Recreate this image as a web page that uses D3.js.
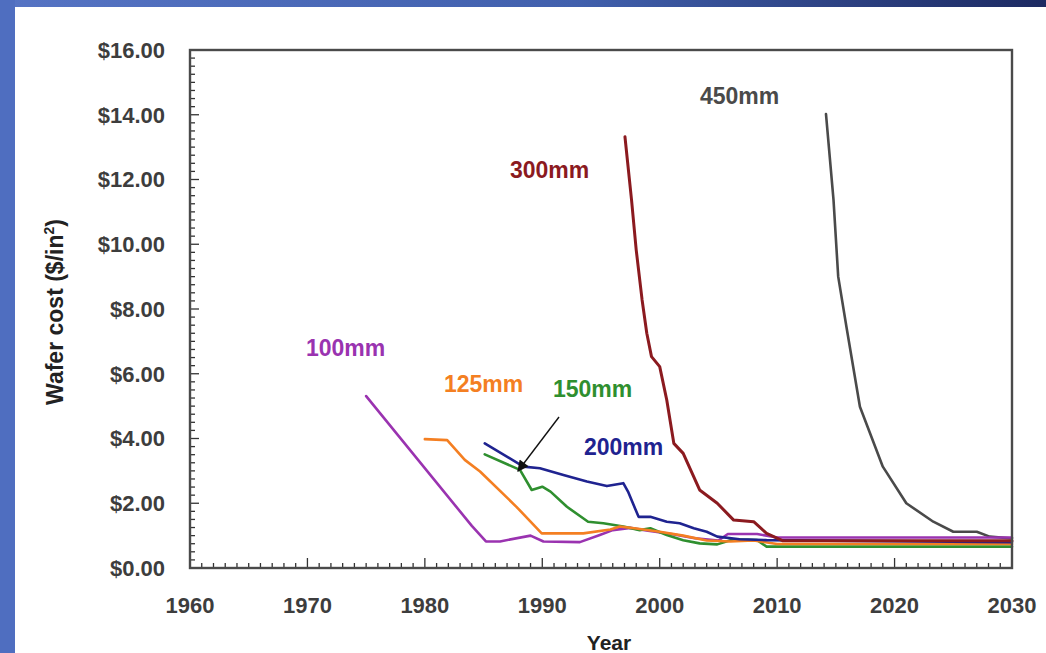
<!DOCTYPE html>
<html>
<head>
<meta charset="utf-8">
<script src="https://cdn.jsdelivr.net/npm/d3@7"></script>
<style>
html,body{margin:0;padding:0;background:#fff;}
svg{display:block;}
text{font-family:"Liberation Sans",Arial,sans-serif;}
</style>
</head>
<body>
<svg id="chart" width="1046" height="653"></svg>
<script>
// ---- data ----
const xTickLabels = [1960, 1970, 1980, 1990, 2000, 2010, 2020, 2030];
const yTickLabels = [0, 2, 4, 6, 8, 10, 12, 14, 16];

const years100 = [1975.0, 1984.0, 1985.2, 1986.4, 1989.0, 1990.1, 1993.2, 1994.9, 1996.0, 1997.5, 1999.0, 2001.0, 2003.0, 2005.0, 2005.8, 2008.3, 2010.0, 2030.0];
const cost100  = [5.31, 1.30, 0.82, 0.82, 1.00, 0.82, 0.80, 1.02, 1.17, 1.24, 1.15, 1.05, 0.92, 0.85, 1.05, 1.05, 0.94, 0.94];

const years125 = [1980.0, 1981.9, 1983.4, 1984.7, 1987.8, 1989.95, 1993.5, 1995.8, 1996.6, 1998.0, 2000.0, 2002.0, 2004.0, 2006.0, 2008.0, 2010.0, 2030.0];
const cost125  = [3.98, 3.95, 3.34, 2.98, 1.89, 1.07, 1.07, 1.19, 1.28, 1.22, 1.12, 1.00, 0.85, 0.82, 0.85, 0.74, 0.74];

const years150 = [1985.1, 1988.1, 1989.1, 1990.0, 1990.7, 1992.1, 1993.9, 1995.2, 1996.9, 1998.3, 1999.2, 2000.6, 2002.0, 2003.4, 2004.9, 2006.3, 2008.3, 2009.1, 2030.0];
const cost150  = [3.51, 3.03, 2.41, 2.51, 2.36, 1.89, 1.43, 1.38, 1.28, 1.17, 1.23, 1.02, 0.86, 0.76, 0.73, 0.89, 0.86, 0.66, 0.66];

const years200 = [1985.1, 1988.4, 1989.8, 1991.8, 1993.8, 1995.5, 1996.9, 1997.3, 1998.2, 1999.2, 2000.6, 2001.7, 2002.9, 2004.0, 2004.9, 2006.8, 2009.1, 2030.0];
const cost200  = [3.85, 3.13, 3.08, 2.87, 2.67, 2.53, 2.62, 2.36, 1.58, 1.58, 1.43, 1.38, 1.23, 1.12, 0.97, 0.89, 0.86, 0.80];

const years300 = [1997.04, 1997.6, 1998.0, 1998.5, 1998.9, 1999.3, 2000.0, 2000.6, 2001.2, 2002.0, 2003.4, 2004.9, 2006.3, 2008.0, 2009.1, 2010.5, 2030.0];
const cost300  = [13.32, 11.37, 9.82, 8.28, 7.25, 6.53, 6.22, 5.19, 3.85, 3.54, 2.41, 2.00, 1.48, 1.43, 1.07, 0.84, 0.84];

const years450 = [2014.16, 2014.8, 2015.2, 2015.9, 2017.05, 2019.0, 2021.0, 2023.3, 2025.0, 2027.0, 2028.1, 2029.8, 2030.0];
const cost450  = [14.02, 11.37, 9.00, 7.45, 4.98, 3.13, 2.00, 1.43, 1.12, 1.12, 0.97, 0.92, 0.92];

const seriesNames  = ["450mm", "100mm", "150mm", "125mm", "200mm", "300mm"];
const seriesYears  = [years450, years100, years150, years125, years200, years300];
const seriesCost   = [cost450, cost100, cost150, cost125, cost200, cost300];
const seriesColors = ["#4a4a4a", "#9a33b0", "#2f8f2f", "#f47f22", "#1f2390", "#8b1a1f"];
const labelPos = {"450mm":[700,104], "300mm":[510,178], "100mm":[306,356], "125mm":[444,392], "150mm":[553,397], "200mm":[584,455]};

// ---- layout ----
const svg = d3.select("#chart");
const W = 1046, H = 653;
const L = 190, R = 1012, T = 50, B = 568;

const defs = svg.append("defs");
const grad = defs.append("linearGradient").attr("id","topgrad").attr("x1","0").attr("x2","1").attr("y1","0").attr("y2","0");
grad.append("stop").attr("offset","0").attr("stop-color","#5674c4");
grad.append("stop").attr("offset","0.55").attr("stop-color","#4160ad");
grad.append("stop").attr("offset","1").attr("stop-color","#1d2a62");
defs.append("marker").attr("id","arrow").attr("viewBox","0 0 10 10").attr("refX",9).attr("refY",5)
  .attr("markerWidth",9).attr("markerHeight",8).attr("orient","auto")
  .append("path").attr("d","M0,0 L10,5 L0,10 z").attr("fill","#111");

svg.append("rect").attr("x",0).attr("y",0).attr("width",W).attr("height",H).attr("fill","url(#topgrad)");
svg.append("rect").attr("x",0).attr("y",0).attr("width",15).attr("height",H).attr("fill","#4f6ec0");
svg.append("rect").attr("x",15).attr("y",7).attr("width",W-15).attr("height",H-7).attr("fill","#ffffff");

const x = d3.scaleLinear().domain([1960, 2030]).range([L, R]);
const y = d3.scaleLinear().domain([0, 16]).range([B, T]);

// ticks
const gx = svg.append("g");
d3.range(1960, 2031, 1).forEach(v => {
  const major = v % 10 === 0;
  gx.append("line").attr("x1", x(v)).attr("x2", x(v)).attr("y1", B).attr("y2", B - (major ? 10 : 5))
    .attr("stroke","#333").attr("stroke-width",1.3);
});
const gy = svg.append("g");
d3.range(0, 16.01, 0.25).forEach(v => {
  const major = Math.abs(v % 2) < 1e-6;
  gy.append("line").attr("x1", L).attr("x2", L + (major ? 9 : 5)).attr("y1", y(v)).attr("y2", y(v))
    .attr("stroke","#333").attr("stroke-width",1.3);
});

// tick labels
svg.append("g").selectAll("text").data(xTickLabels).join("text")
  .attr("x", d => x(d)).attr("y", 613).attr("text-anchor","middle")
  .attr("font-size",22).attr("font-weight","bold").attr("fill","#3d3d3d").text(d => d);
svg.append("g").selectAll("text").data(yTickLabels).join("text")
  .attr("x", 165).attr("y", d => y(d)).attr("dy","0.36em").attr("text-anchor","end")
  .attr("font-size",22).attr("font-weight","bold").attr("fill","#3d3d3d").text(d => "$" + d.toFixed(2));

// axis titles
svg.append("text").attr("x", 609).attr("y", 650).attr("text-anchor","middle")
  .attr("font-size",21).attr("font-weight","bold").attr("fill","#222").text("Year");
const yt = svg.append("text").attr("transform","translate(63,312) rotate(-90)").attr("text-anchor","middle")
  .attr("font-size",23).attr("font-weight","bold").attr("fill","#222");
yt.append("tspan").text("Wafer cost ($/in");
yt.append("tspan").attr("font-size",14).attr("dy",-9).text("2");
yt.append("tspan").attr("dy",9).text(")");

// lines
const line = d3.line().x(d => x(d[0])).y(d => y(d[1]));
seriesNames.forEach((name, i) => {
  const pts = seriesYears[i].map((yr, j) => [yr, seriesCost[i][j]]);
  svg.append("path").datum(pts).attr("d", line).attr("fill","none")
    .attr("stroke", seriesColors[i]).attr("stroke-width", name === "300mm" ? 3 : 2.6)
    .attr("stroke-linejoin","round").attr("stroke-linecap","round");
});

// frame
svg.append("rect").attr("x",L).attr("y",T).attr("width",R-L).attr("height",B-T)
  .attr("fill","none").attr("stroke","#4a4a4a").attr("stroke-width",2.4);

// series labels
seriesNames.forEach((name, i) => {
  svg.append("text").attr("x", labelPos[name][0]).attr("y", labelPos[name][1])
    .attr("font-size",23).attr("font-weight","bold").attr("fill", seriesColors[i]).text(name);
});

// arrow
svg.append("line").attr("x1",559).attr("y1",417).attr("x2",518).attr("y2",471)
  .attr("stroke","#111").attr("stroke-width",1.4).attr("marker-end","url(#arrow)");
</script>
</body>
</html>
